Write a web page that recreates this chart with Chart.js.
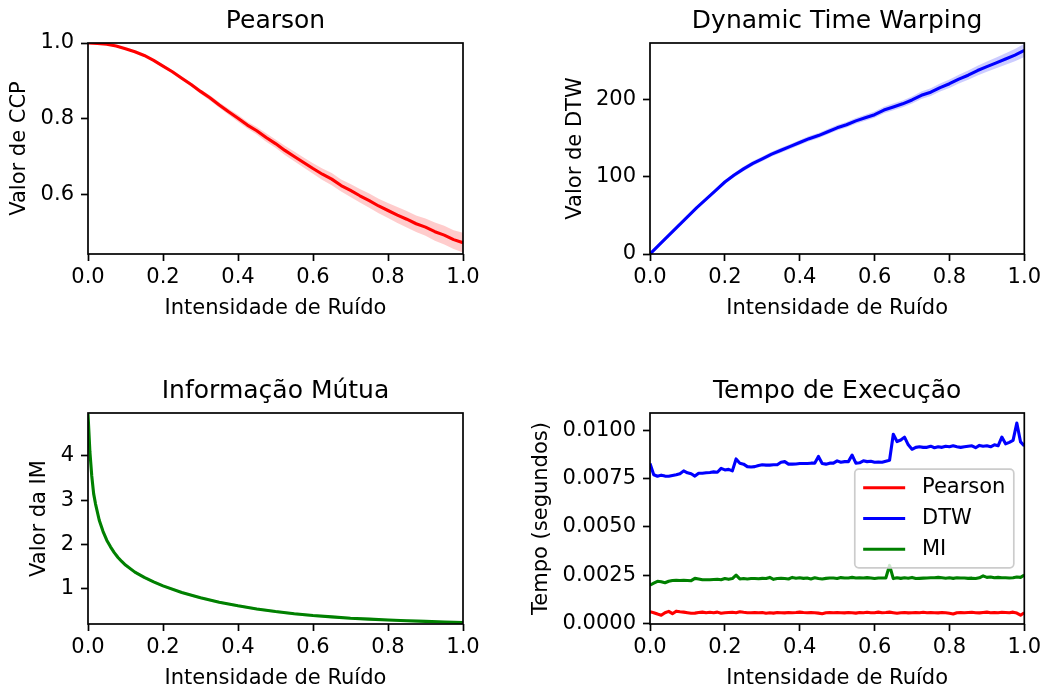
<!DOCTYPE html>
<html>
<head>
<meta charset="utf-8">
<script src="https://cdn.jsdelivr.net/npm/chart.js@4/dist/chart.umd.min.js"></script>
<style>
  body { margin: 0; background: #fff; }
  #fig { position: relative; width: 1047px; height: 691px; background: #fff; }
  #fig canvas { position: absolute; }
</style>
</head>
<body>
<div id="fig">
  <canvas id="pearson" width="523" height="345" style="left:0;top:0"></canvas>
  <canvas id="dtw" width="524" height="345" style="left:523px;top:0"></canvas>
  <canvas id="mi" width="523" height="346" style="left:0;top:345px"></canvas>
  <canvas id="tempo" width="524" height="346" style="left:523px;top:345px"></canvas>
</div>
<script>
// --- DATA ---
const xTicks = [0, 0.2, 0.4, 0.6, 0.8, 1.0];

const noiseX = [0.000, 0.025, 0.050, 0.075, 0.100, 0.125, 0.150, 0.175, 0.200, 0.225,
                0.250, 0.275, 0.300, 0.325, 0.350, 0.375, 0.400, 0.425, 0.450, 0.475,
                0.500, 0.525, 0.550, 0.575, 0.600, 0.625, 0.650, 0.675, 0.700, 0.725,
                0.750, 0.775, 0.800, 0.825, 0.850, 0.875, 0.900, 0.925, 0.950, 0.975, 1.000];

const pearsonMean = [1.000, 0.999, 0.997, 0.992, 0.985, 0.977, 0.967, 0.954, 0.939, 0.924,
                     0.907, 0.890, 0.872, 0.855, 0.836, 0.818, 0.801, 0.783, 0.768, 0.750,
                     0.734, 0.716, 0.700, 0.684, 0.668, 0.653, 0.640, 0.623, 0.610, 0.596,
                     0.583, 0.569, 0.557, 0.545, 0.534, 0.522, 0.513, 0.501, 0.492, 0.480, 0.472];
const pearsonStd = [0.000, 0.000, 0.001, 0.001, 0.002, 0.002, 0.003, 0.003, 0.004, 0.004,
                    0.005, 0.005, 0.006, 0.007, 0.007, 0.008, 0.009, 0.009, 0.010, 0.011,
                    0.011, 0.012, 0.013, 0.013, 0.014, 0.015, 0.016, 0.016, 0.017, 0.018,
                    0.019, 0.019, 0.020, 0.021, 0.022, 0.022, 0.023, 0.024, 0.025, 0.025, 0.026];
const pearsonTicks = [0.6, 0.8, 1.0];

const dtwMean = [0, 12, 24, 36, 48, 60, 71, 82, 93, 102,
                 110, 117, 123, 129, 134, 139, 144, 149, 153, 158,
                 163, 167, 172, 176, 180, 186, 190, 194, 199, 205,
                 209, 215, 220, 226, 231, 237, 242, 247, 252, 257, 263];
const dtwStd = [0, 0.4, 0.8, 1.2, 1.5, 1.8, 2.1, 2.4, 2.6, 2.8,
                3.0, 3.0, 3.1, 3.1, 3.2, 3.2, 3.3, 3.3, 3.4, 3.4,
                3.5, 3.6, 3.7, 3.8, 4.0, 4.1, 4.3, 4.4, 4.6, 4.8,
                5.0, 5.2, 5.4, 5.7, 6.0, 6.3, 6.7, 7.0, 7.5, 8.0, 8.5];
const dtwTicks = [0, 100, 200];

const miX = [0, 0.005, 0.01, 0.015, 0.02, 0.03, 0.04, 0.05, 0.06, 0.07, 0.08,
             0.09, 0.1, 0.125, 0.15, 0.175, 0.2, 0.25, 0.3, 0.35, 0.4, 0.45,
             0.5, 0.55, 0.6, 0.65, 0.7, 0.75, 0.8, 0.85, 0.9, 0.95, 1.0];
const miMean = [4.95, 4.10, 3.55, 3.15, 2.92, 2.55, 2.30, 2.10, 1.95, 1.82, 1.71,
                1.62, 1.54, 1.38, 1.26, 1.16, 1.07, 0.92, 0.80, 0.70, 0.62, 0.55,
                0.49, 0.44, 0.40, 0.37, 0.34, 0.32, 0.30, 0.285, 0.27, 0.255, 0.245];
const miStd = [0.02, 0.03, 0.03, 0.03, 0.03, 0.03, 0.03, 0.03, 0.03, 0.03, 0.03,
               0.03, 0.03, 0.03, 0.03, 0.03, 0.03, 0.03, 0.03, 0.03, 0.03, 0.03,
               0.03, 0.03, 0.03, 0.03, 0.03, 0.03, 0.03, 0.03, 0.03, 0.03, 0.035];
const miTicks = [1, 2, 3, 4];

const timeX = [0.00, 0.01, 0.02, 0.03, 0.04, 0.05, 0.06, 0.07, 0.08, 0.09,
               0.10, 0.11, 0.12, 0.13, 0.14, 0.15, 0.16, 0.17, 0.18, 0.19,
               0.20, 0.21, 0.22, 0.23, 0.24, 0.25, 0.26, 0.27, 0.28, 0.29,
               0.30, 0.31, 0.32, 0.33, 0.34, 0.35, 0.36, 0.37, 0.38, 0.39,
               0.40, 0.41, 0.42, 0.43, 0.44, 0.45, 0.46, 0.47, 0.48, 0.49,
               0.50, 0.51, 0.52, 0.53, 0.54, 0.55, 0.56, 0.57, 0.58, 0.59,
               0.60, 0.61, 0.62, 0.63, 0.64, 0.65, 0.66, 0.67, 0.68, 0.69,
               0.70, 0.71, 0.72, 0.73, 0.74, 0.75, 0.76, 0.77, 0.78, 0.79,
               0.80, 0.81, 0.82, 0.83, 0.84, 0.85, 0.86, 0.87, 0.88, 0.89,
               0.90, 0.91, 0.92, 0.93, 0.94, 0.95, 0.96, 0.97, 0.98, 0.99, 1.00];
const timePearson = [0.00060, 0.00055, 0.00048, 0.00042, 0.00055, 0.00062, 0.00050, 0.00063, 0.00060, 0.00058,
                     0.00055, 0.00052, 0.00053, 0.00056, 0.00058, 0.00055, 0.00057, 0.00055, 0.00058, 0.00052,
                     0.00055, 0.00056, 0.00057, 0.00055, 0.00060, 0.00057, 0.00055, 0.00055, 0.00056, 0.00055,
                     0.00056, 0.00052, 0.00055, 0.00053, 0.00056, 0.00055, 0.00054, 0.00056, 0.00055, 0.00056,
                     0.00058, 0.00056, 0.00055, 0.00056, 0.00055, 0.00053, 0.00050, 0.00055, 0.00056, 0.00055,
                     0.00056, 0.00055, 0.00054, 0.00056, 0.00055, 0.00053, 0.00056, 0.00055, 0.00057, 0.00055,
                     0.00055, 0.00058, 0.00055, 0.00056, 0.00058, 0.00055, 0.00052, 0.00055, 0.00056, 0.00054,
                     0.00055, 0.00056, 0.00055, 0.00057, 0.00055, 0.00056, 0.00055, 0.00054, 0.00056, 0.00055,
                     0.00052, 0.00048, 0.00055, 0.00056, 0.00055, 0.00056, 0.00057, 0.00055, 0.00054, 0.00056,
                     0.00058, 0.00055, 0.00056, 0.00055, 0.00057, 0.00056, 0.00055, 0.00058, 0.00053, 0.00042,
                     0.00055];
const timeDtw = [0.00828, 0.00770, 0.00762, 0.00768, 0.00763, 0.00762, 0.00766, 0.00770, 0.00775, 0.00790,
                 0.00780, 0.00775, 0.00763, 0.00778, 0.00778, 0.00780, 0.00782, 0.00785, 0.00783, 0.00803,
                 0.00795, 0.00798, 0.00790, 0.00852, 0.00830, 0.00825, 0.00812, 0.00810, 0.00812, 0.00818,
                 0.00822, 0.00820, 0.00820, 0.00822, 0.00822, 0.00835, 0.00838, 0.00825, 0.00825, 0.00826,
                 0.00828, 0.00828, 0.00828, 0.00830, 0.00830, 0.00865, 0.00828, 0.00825, 0.00830, 0.00830,
                 0.00842, 0.00835, 0.00838, 0.00838, 0.00872, 0.00830, 0.00832, 0.00842, 0.00838, 0.00840,
                 0.00835, 0.00836, 0.00835, 0.00840, 0.00845, 0.00980, 0.00942, 0.00950, 0.00965, 0.00925,
                 0.00902, 0.00912, 0.00915, 0.00912, 0.00912, 0.00918, 0.00910, 0.00915, 0.00912, 0.00918,
                 0.00915, 0.00920, 0.00915, 0.00912, 0.00915, 0.00918, 0.00920, 0.00910, 0.00922, 0.00918,
                 0.00920, 0.00915, 0.00925, 0.00920, 0.00965, 0.00930, 0.00938, 0.00948, 0.01038, 0.00940,
                 0.00920];
const timeMi = [0.00198, 0.00208, 0.00218, 0.00215, 0.00210, 0.00218, 0.00222, 0.00223, 0.00222, 0.00223,
                0.00222, 0.00221, 0.00233, 0.00230, 0.00226, 0.00226, 0.00226, 0.00227, 0.00228, 0.00226,
                0.00232, 0.00228, 0.00232, 0.00250, 0.00230, 0.00232, 0.00230, 0.00232, 0.00232, 0.00231,
                0.00233, 0.00232, 0.00238, 0.00228, 0.00232, 0.00234, 0.00232, 0.00230, 0.00238, 0.00234,
                0.00236, 0.00233, 0.00235, 0.00230, 0.00236, 0.00232, 0.00230, 0.00233, 0.00235, 0.00235,
                0.00232, 0.00237, 0.00235, 0.00235, 0.00238, 0.00235, 0.00236, 0.00235, 0.00237, 0.00235,
                0.00232, 0.00235, 0.00235, 0.00235, 0.00300, 0.00232, 0.00236, 0.00233, 0.00236, 0.00234,
                0.00238, 0.00232, 0.00233, 0.00234, 0.00235, 0.00236, 0.00236, 0.00238, 0.00236, 0.00234,
                0.00236, 0.00233, 0.00236, 0.00235, 0.00235, 0.00233, 0.00234, 0.00232, 0.00236, 0.00246,
                0.00238, 0.00240, 0.00236, 0.00238, 0.00236, 0.00236, 0.00235, 0.00236, 0.00240, 0.00238,
                0.00250];
const timeTicks = [0, 0.0025, 0.005, 0.0075, 0.01];

// --- STYLE ---
const FONT = "'DejaVu Sans', sans-serif";
const BLACK = '#000000';
const LINE_W = 3.1;
const SPINE_W = 1.7;

const pts = (xs, ys) => xs.map((x, i) => ({ x, y: ys[i] }));

// line with a shaded band of mean +/- std behind it
const bandDatasets = (label, xs, mean, std, color, shade) => [
    { label, data: pts(xs, mean), borderColor: color, borderWidth: LINE_W, pointRadius: 0, clip: 0, fill: false, borderJoinStyle: 'round' },
    { data: pts(xs, mean.map((m, i) => m - std[i])), borderColor: 'rgba(0,0,0,0)', borderWidth: 1, pointRadius: 0, clip: 0, fill: false },
    { data: pts(xs, mean.map((m, i) => m + std[i])), borderColor: 'rgba(0,0,0,0)', borderWidth: 1, pointRadius: 0, clip: 0, fill: '-1', backgroundColor: shade }
];

const lineDataset = (label, xs, ys, color) => (
    { label, data: pts(xs, ys), borderColor: color, borderWidth: LINE_W, pointRadius: 0, clip: 0, fill: false, borderJoinStyle: 'round' }
);

// black box around the plot area (matplotlib spines)
const axesFrame = {
    id: 'axesFrame',
    afterDatasetsDraw(chart) {
        const { ctx, chartArea: a } = chart;
        ctx.save();
        ctx.strokeStyle = BLACK;
        ctx.lineWidth = SPINE_W;
        ctx.strokeRect(a.left, a.top, a.right - a.left, a.bottom - a.top);
        ctx.restore();
    }
};

// legend drawn inside the plot area, centre right
const insideLegend = {
    id: 'insideLegend',
    afterDraw(chart, args, opts) {
        if (!opts.display) return;
        const { ctx, chartArea: a } = chart;
        const items = chart.data.datasets.filter(d => d.label);
        const fs = 21, pad = 8.4, handle = 42, gap = 16.8, rowH = 20.3, spacing = 10.5;
        ctx.save();
        ctx.font = `${fs}px ${FONT}`;
        const textW = Math.max(...items.map(d => ctx.measureText(d.label).width));
        const w = pad * 2 + handle + gap + textW;
        const h = pad * 2 + items.length * rowH + (items.length - 1) * spacing;
        const x = a.right - 10.5 - w;
        const y = (a.top + a.bottom) / 2 - h / 2;
        ctx.beginPath();
        ctx.roundRect(x, y, w, h, 4);
        ctx.fillStyle = 'rgba(255,255,255,0.8)';
        ctx.fill();
        ctx.strokeStyle = '#cccccc';
        ctx.lineWidth = SPINE_W;
        ctx.stroke();
        items.forEach((d, i) => {
            const cy = y + pad + rowH / 2 + i * (rowH + spacing);
            ctx.beginPath();
            ctx.moveTo(x + pad, cy);
            ctx.lineTo(x + pad + handle, cy);
            ctx.strokeStyle = d.borderColor;
            ctx.lineWidth = LINE_W;
            ctx.stroke();
            ctx.fillStyle = BLACK;
            ctx.textBaseline = 'middle';
            ctx.textAlign = 'left';
            ctx.fillText(d.label, x + pad + handle + gap, cy);
        });
        ctx.restore();
    }
};

const tickFont = { family: FONT, size: 21, lineHeight: 1 };

function buildPanel(id, p) {
    return new Chart(document.getElementById(id), {
        type: 'line',
        data: { datasets: p.datasets },
        options: {
            responsive: false,
            animation: false,
            events: [],
            layout: { padding: { left: 0, right: p.padRight, top: 0, bottom: p.padBottom } },
            plugins: {
                legend: { display: false },
                tooltip: { enabled: false },
                title: {
                    display: true, text: p.title, fullSize: false, color: BLACK,
                    font: { family: FONT, size: 25, weight: 'normal', lineHeight: 1 },
                    padding: { top: p.titleTop, bottom: p.titleBottom }
                },
                insideLegend: { display: !!p.legend }
            },
            scales: {
                x: {
                    type: 'linear', min: 0, max: 1,
                    afterBuildTicks: s => { s.ticks = xTicks.map(v => ({ value: v })); },
                    afterFit: s => { s.height = 66; },
                    ticks: { color: BLACK, font: tickFont, padding: 6, maxRotation: 0, callback: v => v.toFixed(1) },
                    grid: { display: true, drawOnChartArea: false, drawTicks: true, tickLength: 7, tickWidth: SPINE_W, tickColor: BLACK },
                    border: { display: false },
                    title: { display: true, text: 'Intensidade de Ruído', color: BLACK, font: tickFont, padding: { top: 0, bottom: 0.8 } }
                },
                y: {
                    type: 'linear', min: p.yMin, max: p.yMax,
                    afterBuildTicks: s => { s.ticks = p.yTicks.map(v => ({ value: v })); },
                    afterFit: s => { s.width = p.yWidth; },
                    ticks: { color: BLACK, font: tickFont, padding: 7, callback: v => v.toFixed(p.yDecimals) },
                    grid: { display: true, drawOnChartArea: false, drawTicks: true, tickLength: 7, tickWidth: SPINE_W, tickColor: BLACK },
                    border: { display: false },
                    title: { display: true, text: p.yTitle, color: BLACK, font: tickFont, padding: { top: p.yTitlePad, bottom: 0 } }
                }
            }
        },
        plugins: [axesFrame, insideLegend]
    });
}

buildPanel('pearson', {
    title: 'Pearson', yTitle: 'Valor de CCP',
    datasets: bandDatasets('Pearson', noiseX, pearsonMean, pearsonStd, '#ff0000', 'rgba(255,0,0,0.2)'),
    yMin: 0.442, yMax: 1.0, yTicks: pearsonTicks, yDecimals: 1,
    yWidth: 88, yTitlePad: 9, padRight: 60, padBottom: 25, titleTop: 8.85, titleBottom: 9.15
});

buildPanel('dtw', {
    title: 'Dynamic Time Warping', yTitle: 'Valor de DTW',
    datasets: bandDatasets('DTW', noiseX, dtwMean, dtwStd, '#0000ff', 'rgba(0,0,255,0.2)'),
    yMin: 0, yMax: 272.6, yTicks: dtwTicks, yDecimals: 0,
    yWidth: 127, yTitlePad: 42.2, padRight: 22, padBottom: 25, titleTop: 8.85, titleBottom: 9.15
});

buildPanel('mi', {
    title: 'Informação Mútua', yTitle: 'Valor da IM',
    datasets: bandDatasets('MI', miX, miMean, miStd, '#008000', 'rgba(0,128,0,0.2)'),
    yMin: 0.21, yMax: 4.968, yTicks: miTicks, yDecimals: 0,
    yWidth: 88, yTitlePad: 28.9, padRight: 60, padBottom: 1, titleTop: 33.85, titleBottom: 9.15
});

buildPanel('tempo', {
    title: 'Tempo de Execução', yTitle: 'Tempo (segundos)',
    datasets: [
        lineDataset('Pearson', timeX, timePearson, '#ff0000'),
        lineDataset('DTW', timeX, timeDtw, '#0000ff'),
        lineDataset('MI', timeX, timeMi, '#008000')
    ],
    yMin: -0.000035, yMax: 0.0109, yTicks: timeTicks, yDecimals: 4,
    yWidth: 127, yTitlePad: 8.5, padRight: 22, padBottom: 1, titleTop: 33.85, titleBottom: 9.15,
    legend: true
});
</script>
</body>
</html>
